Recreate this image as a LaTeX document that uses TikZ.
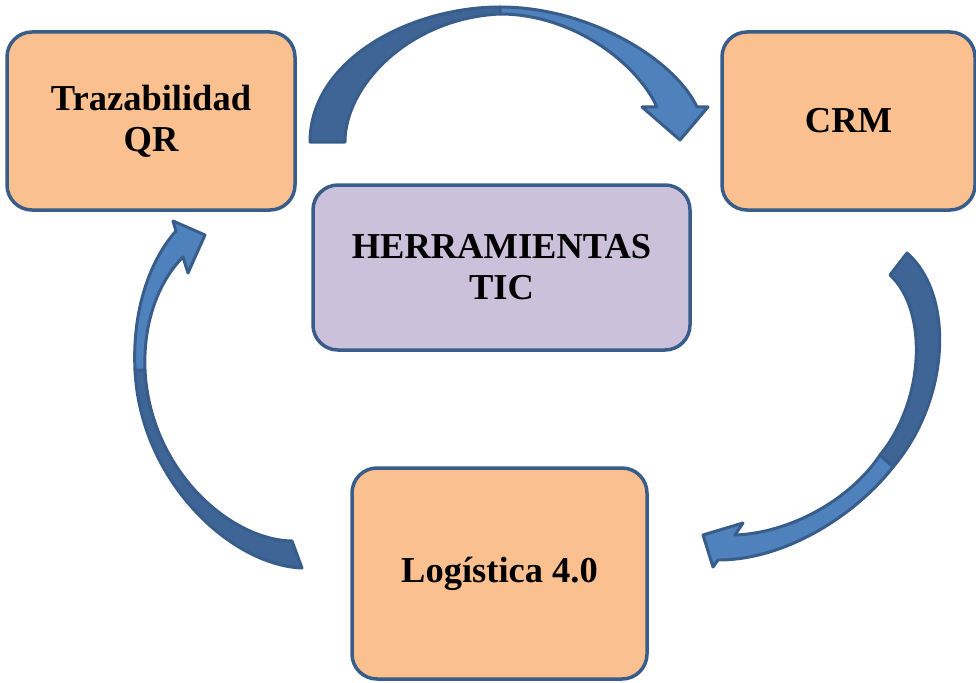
\documentclass[tikz,border=0pt]{standalone}
\usepackage{fontspec}
\setmainfont{Liberation Serif}
\usepackage{tikz}
\usetikzlibrary{positioning}

\definecolor{naranja}{RGB}{250,192,144}
\definecolor{lila}{RGB}{204,193,218}
\definecolor{borde}{RGB}{56,93,138}
\definecolor{azulosc}{RGB}{62,101,150}
\definecolor{azulcla}{RGB}{79,129,189}

\begin{document}
\begin{tikzpicture}[x=1pt, y=-1pt,
    tbox/.style={draw=borde, line width=3.5pt, rounded corners=25pt, align=center,
                 inner sep=0pt, font=\fontsize{36.5}{41}\selectfont\bfseries},
    band/.style={draw=borde, line width=3pt, line join=round, fill=azulosc},
    bandhead/.style={band, fill=azulcla}]

    \useasboundingbox (0,0) rectangle (976,682);

    % Boxes
    \node[tbox, fill=naranja, minimum width=288pt, minimum height=178pt] (trz) at (151,121)
      {Trazabilidad\\QR};
    \node[tbox, fill=naranja, minimum width=253pt, minimum height=178pt] (crm) at (848.5,121)
      {CRM};
    \node[tbox, fill=lila, minimum width=377pt, minimum height=165pt] (tic) at (501.5,267.5)
      {HERRAMIENTAS\\TIC};
    \node[tbox, fill=naranja, minimum width=295pt, minimum height=211pt] (log) at (499.5,573.5)
      {Logística 4.0};

    % === Curved arrow: Trazabilidad -> CRM ===
    \path[band] (310,142) .. controls (310,60) and (410,7) .. (500,7)
      -- (500,14) .. controls (410,18) and (345,85) .. (345,142) -- cycle;
    \path[bandhead] (500,7) .. controls (590,7) and (675,60) .. (697,107)
      -- (708,107) -- (680,140) -- (642,107) -- (657,107)
      .. controls (635,60) and (570,14) .. (500,14) -- cycle;

    % === Curved arrow: CRM -> Logistica ===
    \path[band] (907,253) .. controls (955,295) and (950,400) .. (893,467)
      -- (880,455) .. controls (925,400) and (928,310) .. (890,275) -- cycle;
    \path[bandhead] (893,467) .. controls (860,510) and (790,560) .. (718,560)
      -- (713,567) -- (703,535) -- (743,523) -- (735,535)
      .. controls (790,533) and (850,500) .. (880,455) -- cycle;

    % === Curved arrow: Logistica -> Trazabilidad ===
    \path[band] (302,568) .. controls (230,565) and (140,480) .. (135,370)
      -- (145,370) .. controls (150,470) and (230,540) .. (292,541) -- cycle;
    \path[bandhead] (135,370) .. controls (132,310) and (150,260) .. (176,231)
      -- (173,221) -- (205,235) -- (188,273) -- (183,257)
      .. controls (160,280) and (143,320) .. (145,370) -- cycle;

\end{tikzpicture}
\end{document}
